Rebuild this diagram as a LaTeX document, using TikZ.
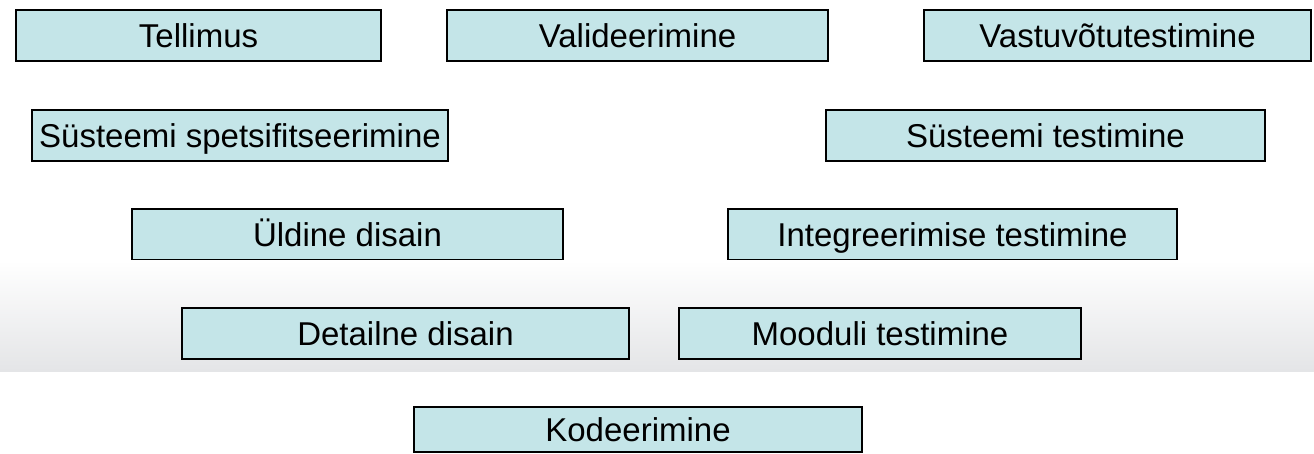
\documentclass[tikz,border=0pt]{standalone}
\usepackage{fontspec}
\setmainfont{Liberation Sans}
\definecolor{boxfill}{RGB}{196,229,232}
\definecolor{bandbot}{RGB}{228,229,231}
\begin{document}
\begin{tikzpicture}[x=1pt,y=-1pt,
  stagebox/.style={draw=black, line width=1.4pt, fill=boxfill, rectangle,
    inner sep=0pt, outer sep=0pt, minimum height=51pt,
    font=\fontsize{33}{37}\selectfont, text height=23.6pt, text depth=0pt}]
\useasboundingbox (0,0) rectangle (1314,454);
% background band
\shade[top color=white, bottom color=bandbot] (0,260) rectangle (1314,371);
% boxes
\node[stagebox, minimum width=365pt] (tell) at (198.5,35.5) {Tellimus};
\node[stagebox, minimum width=381pt] (vali) at (637.5,35.5) {Valideerimine};
\node[stagebox, minimum width=387pt] (vast) at (1117.5,35.5) {Vastuvõtutestimine};
\node[stagebox, minimum width=416pt] (sspec) at (240,135.5) {Süsteemi spetsifitseerimine};
\node[stagebox, minimum width=439pt] (stest) at (1045.5,135.5) {Süsteemi testimine};
\node[stagebox, minimum width=431pt, minimum height=50.5pt] (yld) at (347.5,234.25) {Üldine disain};
\node[stagebox, minimum width=449pt, minimum height=50.5pt] (integ) at (952.5,234.25) {Integreerimise testimine};
\node[stagebox, minimum width=447pt] (det) at (405.5,333.5) {Detailne disain};
\node[stagebox, minimum width=402pt] (mood) at (880,333.5) {Mooduli testimine};
\node[stagebox, minimum width=448pt, minimum height=45pt] (kod) at (638,429.5) {Kodeerimine};
\end{tikzpicture}
\end{document}
